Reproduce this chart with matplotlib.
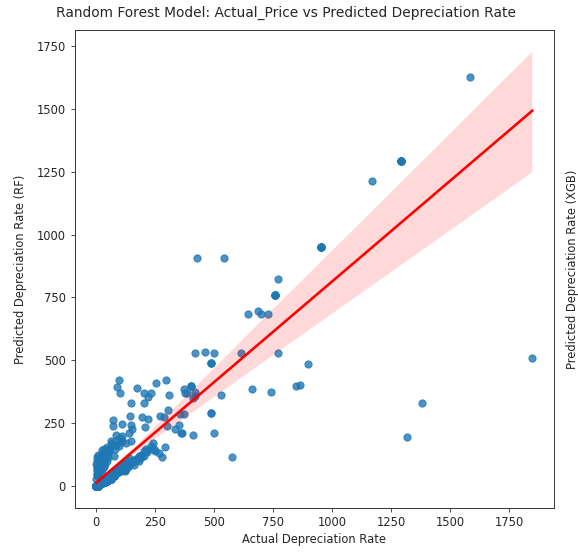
import numpy as np
import matplotlib
matplotlib.use('Agg')
import matplotlib.pyplot as plt
from matplotlib.ticker import MultipleLocator
import seaborn as sns

plt.rcParams['font.size'] = 11.5
plt.rcParams['text.color'] = '#262626'
plt.rcParams['axes.labelcolor'] = '#262626'
plt.rcParams['xtick.color'] = '#262626'
plt.rcParams['ytick.color'] = '#262626'
plt.rcParams['axes.edgecolor'] = '#333333'
plt.rcParams['xtick.major.size'] = 4
plt.rcParams['ytick.major.size'] = 4
plt.rcParams['xtick.major.pad'] = 4
plt.rcParams['ytick.major.pad'] = 5

# actual vs predicted depreciation rate
# blob near the origin, upper part (above the diagonal)
upper_x = [0, 2, 1, 3, 0, 4, 2, 6, 1, 3, 5, 9, 10, 12, 11, 14, 18, 22, 25, 24, 28, 22, 26, 32, 35,
           36, 34, 38, 33, 45, 48, 44, 52, 46, 55, 64, 60, 68, 75, 80, 85, 88, 82, 98, 100, 110, 108, 124, 138, 145]
upper_y = [30, 45, 60, 75, 90, 105, 115, 125, 50, 70, 85, 40, 60, 75, 95, 110, 55, 70, 85, 100, 118, 130, 145, 75, 90,
           110, 125, 135, 150, 100, 115, 130, 140, 155, 150, 160, 180, 170, 120, 150, 165, 185, 205, 160, 175, 180, 200, 172, 210, 180]

# blob near the origin, along the diagonal
diag_x = [0, 1, 2, 3, 4, 5, 6, 7, 8, 9, 10, 11, 12, 13, 14, 15, 16, 17, 18, 19, 20, 22, 24, 26, 28, 30,
          33, 36, 40, 44, 48, 52, 56, 60, 65, 70, 75, 80, 85, 90, 97, 104, 112, 120, 130, 140,
          150, 160, 170, 180, 190, 200, 210, 220, 230, 240, 120, 135, 160, 180, 200, 215, 245, 250]
diag_y = [1, 0, 2, 3, 3, 5, 4, 6, 7, 8, 9, 8, 11, 10, 12, 13, 12, 15, 14, 17, 16, 19, 18, 22, 21, 25,
          27, 30, 33, 37, 39, 44, 46, 50, 53, 58, 60, 66, 68, 73, 78, 85, 90, 97, 104, 113,
          95, 105, 110, 120, 125, 140, 150, 145, 160, 170, 60, 75, 85, 100, 120, 135, 150, 140]

# blob near the origin, under the diagonal: heavily overlapping dots, with their counts
lower_x = [0, 3, 5, 8, 10, 15, 20, 25, 30, 35, 40, 45, 50, 55, 60, 65, 70, 75, 80, 90,
           100, 110, 120, 130, 140, 150, 160, 175, 190]
lower_y = [0, 2, 5, 3, 8, 10, 12, 15, 20, 18, 25, 22, 30, 35, 30, 40, 45, 40, 50, 55,
           60, 70, 65, 80, 85, 95, 100, 110, 115]
lower_n = [60, 40, 25, 20, 15, 15, 12, 12, 10, 10, 10, 8, 8, 8, 8, 6, 6, 6, 6, 5,
           5, 4, 4, 4, 3, 3, 3, 2, 2]

# scattered points further out (dark dots in the reference are repeated)
outer_x = [98, 87, 100, 172, 201, 220, 230, 254, 294, 310, 148, 200, 142, 72, 70, 110, 148, 152, 194, 208,
           218, 100, 266, 279, 289, 303, 269, 287, 356, 373, 371, 374, 403, 403, 403, 420, 409, 385, 419,
           486, 488, 527, 349, 335, 361, 364, 410, 497, 300, 420, 459, 499, 486, 486, 486, 613,
           425, 543, 576, 658, 741, 847, 899, 864, 771, 643, 686, 700, 727, 758, 758, 758, 758, 758, 770,
           953, 953, 953, 953, 953, 1170, 1293, 1293, 1293, 1293, 1293, 1293, 1586, 1381, 1319, 1848]
outer_y = [423, 396, 369, 389, 369, 355, 369, 410, 421, 362, 331, 331, 280, 264, 240, 247, 243, 226, 274, 236,
           267, 193, 132, 118, 156, 304, 280, 274, 287, 386, 287, 369, 400, 400, 400, 375, 351, 369, 360,
           291, 293, 362, 244, 228, 210, 213, 202, 211, 240, 528, 535, 530, 490, 490, 490, 530,
           905, 905, 118, 385, 373, 400, 485, 401, 528, 684, 695, 683, 683, 760, 760, 760, 760, 760, 823,
           951, 951, 951, 951, 951, 1212, 1293, 1293, 1293, 1293, 1293, 1293, 1625, 331, 197, 511]

actual = upper_x + diag_x + list(np.repeat(lower_x, lower_n)) + outer_x
predicted = upper_y + diag_y + list(np.repeat(lower_y, lower_n)) + outer_y

fig = plt.figure(figsize=(578 / 72, 552 / 72), dpi=72)
ax = fig.add_axes([0.129, 0.0797, 0.8295, 0.866])
sns.regplot(x=actual, y=predicted, ax=ax, scatter_kws={'s': 52},
            line_kws={'color': 'red', 'lw': 2.6}, seed=1)

ax.xaxis.set_major_locator(MultipleLocator(250))
ax.yaxis.set_major_locator(MultipleLocator(250))
fig.suptitle('Random Forest Model: Actual_Price vs Predicted Depreciation Rate',
             x=0.495, y=0.99, va='top', fontsize=13.8)
ax.set_xlabel('Actual Depreciation Rate', labelpad=4)
ax.set_ylabel('Predicted Depreciation Rate (RF)', labelpad=9)

ax2 = ax.twinx()
ax2.set_yticks([])
ax2.set_ylabel('Predicted Depreciation Rate (XGB)', labelpad=12)

fig.savefig('out.png', dpi=72)
